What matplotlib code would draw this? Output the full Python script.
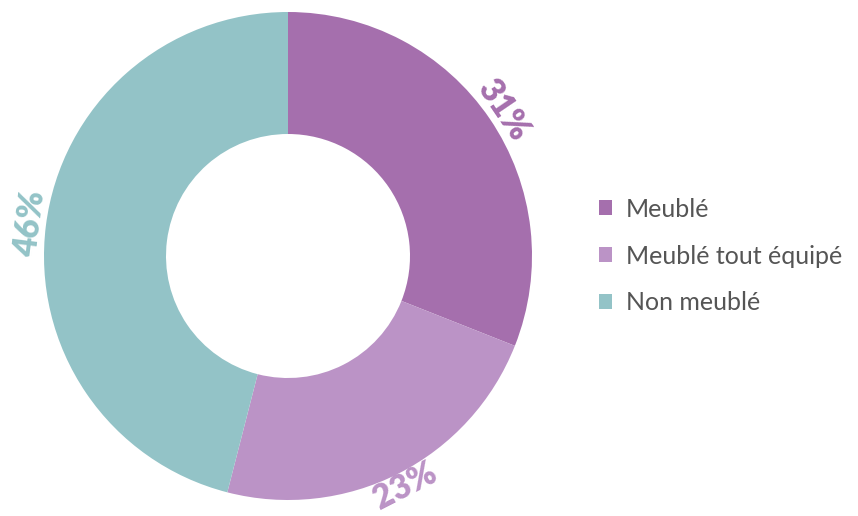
import numpy as np
import matplotlib.pyplot as plt

categories = ["Meublé", "Meublé tout équipé", "Non meublé"]
values = [31, 23, 46]
colors = ["#a56fad", "#bb93c6", "#93c3c7"]

plt.rcParams['font.family'] = ['Lato', 'DejaVu Sans']

W, H = 858, 516
fig = plt.figure(figsize=(W / 100, H / 100), dpi=100)
ax = fig.add_axes([0, 0, 1, 1])

cx, cy, r = 288, H - 256, 244
wedges, _ = ax.pie(values, colors=colors, startangle=90, counterclock=False,
                   center=(cx, cy), radius=r, frame=True,
                   wedgeprops=dict(width=r * 0.5, linewidth=0))
ax.set_xlim(0, W)
ax.set_ylim(0, H)
ax.set_aspect('equal')
ax.axis('off')

# rotated percent labels just outside the ring
for w, v, c in zip(wedges, values, colors):
    ang = (w.theta1 + w.theta2) / 2
    a = np.deg2rad(ang)
    off = 16 if np.sin(a) > 0 else 14.5
    x = cx + (r + off) * np.cos(a)
    y = cy + (r + off) * np.sin(a)
    rot = ang - 90 if np.sin(a) > 0 else ang + 90
    ax.text(x, y, f"{v}%", rotation=rot, rotation_mode='anchor',
            ha='center', va='center', fontsize=24, fontweight='heavy', color=c)

leg = ax.legend(wedges, categories, loc='center left',
                bbox_to_anchor=(576 / W, 1 - 256 / H), bbox_transform=fig.transFigure,
                frameon=False, fontsize=18, labelcolor='#555555',
                handlelength=0.55, handleheight=0.55, handletextpad=0.55,
                labelspacing=0.95)

fig.savefig("out.png", dpi=100)
